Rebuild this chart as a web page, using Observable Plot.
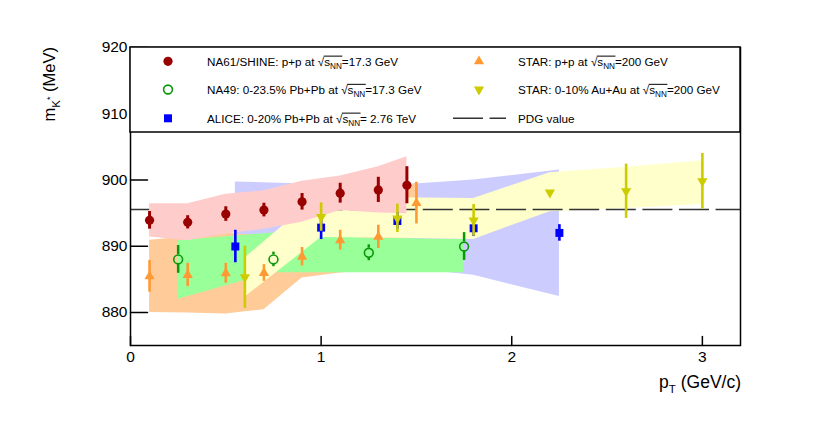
<!DOCTYPE html>
<html><head><meta charset="utf-8">
<script src="https://cdn.jsdelivr.net/npm/d3@7"></script>
<script src="https://cdn.jsdelivr.net/npm/@observablehq/plot@0.6"></script>
<style>body{margin:0;background:#fff;} svg{font-family:"Liberation Sans",Arial,sans-serif;}</style>
</head><body><div id="chart"></div>
<script>
const pdgMass = 895.55;
const xTicks = [0, 1, 2, 3];
const yTicks = [880, 890, 900, 910, 920];

// NA61/SHINE p+p 17.3 GeV
const na61Pt = [0.1, 0.3, 0.5, 0.7, 0.9, 1.1, 1.3, 1.45];
const na61M = [893.9, 893.6, 894.85, 895.45, 896.7, 898.0, 898.5, 899.2];
const na61Stat = [1.33, 1.0, 1.1, 1.03, 1.25, 1.5, 1.9, 2.8];
const na61Sys = [2.5, 2.8, 3.0, 2.9, 3.1, 2.6, 3.5, 4.3];

// NA49 0-23.5% Pb+Pb 17.3 GeV
const na49Pt = [0.25, 0.75, 1.25, 1.75];
const na49M = [888.0, 888.0, 889.0, 889.95];
const na49Stat = [2.1, 1.1, 1.2, 2.1];
const na49SysLo = [882.0, 886.0, 886.0, 886.0];
const na49SysHi = [890.8, 892.0, 891.2, 891.0];

// ALICE 0-20% Pb+Pb 2.76 TeV
const alicePt = [0.55, 1.0, 1.4, 1.8, 2.25];
const aliceM = [889.95, 892.8, 893.8, 892.7, 892.0];
const aliceStat = [2.45, 1.8, 1.3, 1.25, 1.25];
const aliceSysLo = [884.0, 886.3, 886.8, 885.6, 882.4];
const aliceSysHi = [899.7, 899.3, 899.2, 900.0, 901.5];

// STAR p+p 200 GeV
const starPpPt = [0.1, 0.3, 0.5, 0.7, 0.9, 1.1, 1.3, 1.5];
const starPpM = [885.45, 885.65, 885.9, 885.95, 888.4, 890.9, 891.4, 896.5];
const starPpStat = [2.4, 1.75, 1.5, 1.26, 1.4, 1.5, 1.75, 3.15];
const starPpSysLo = [880.0, 879.9, 879.75, 880.4, 885.2, 885.95, 886.4, 892.8];
const starPpSysHi = [890.9, 891.4, 892.0, 891.5, 891.6, 895.9, 896.4, 899.6];

// STAR 0-10% Au+Au 200 GeV
const starAuPt = [0.6, 1.0, 1.4, 1.8, 2.2, 2.6, 3.0];
const starAuM = [885.3, 894.4, 894.2, 893.9, 898.1, 898.3, 899.8];
const starAuStat = [4.7, 2.15, 2.15, 2.4, 0.3, 4.1, 4.2];
const starAuSysLo = [882.3, 891.3, 891.2, 891.0, 895.2, 895.7, 896.3];
const starAuSysHi = [888.2, 898.0, 897.3, 897.2, 901.1, 901.9, 902.9];

const legendLabels = [
  ["NA61/SHINE: p+p at ", "=17.3 GeV"],
  ["NA49: 0-23.5% Pb+Pb at ", "=17.3 GeV"],
  ["ALICE: 0-20% Pb+Pb at ", "= 2.76 TeV"],
  ["STAR: p+p at ", "=200 GeV"],
  ["STAR: 0-10% Au+Au at ", "=200 GeV"],
  ["PDG value", null]
];

const C = {
  na61: "#990000", na61Band: "#ffcccc",
  na49: "#0a990a", na49Band: "#99ff99",
  alice: "#0000ff", aliceBand: "#ccccff",
  pp: "#ff9933", ppBand: "#ffcc99",
  au: "#cccc00", auBand: "#ffffcc"
};

const na61 = na61Pt.map((pt, i) => ({pt, m: na61M[i], stat: na61Stat[i], lo: na61M[i] - na61Sys[i], hi: na61M[i] + na61Sys[i]}));
const na49 = na49Pt.map((pt, i) => ({pt, m: na49M[i], stat: na49Stat[i], lo: na49SysLo[i], hi: na49SysHi[i]}));
const alice = alicePt.map((pt, i) => ({pt, m: aliceM[i], stat: aliceStat[i], lo: aliceSysLo[i], hi: aliceSysHi[i]}));
const starPp = starPpPt.map((pt, i) => ({pt, m: starPpM[i], stat: starPpStat[i], lo: starPpSysLo[i], hi: starPpSysHi[i]}));
const starAu = starAuPt.map((pt, i) => ({pt, m: starAuM[i], stat: starAuStat[i], lo: starAuSysLo[i], hi: starAuSysHi[i]}));

const tickShape = {draw(ctx, l) { ctx.moveTo(0, 0); ctx.lineTo(0, -l); }};
const circleGap = 0.7;

const band = (data, fill) => Plot.areaY(data, {x: "pt", y1: "lo", y2: "hi", fill, curve: "linear"});
const bars = (data, stroke, w) => Plot.ruleX(data, {x: "pt", y1: d => d.m - d.stat, y2: d => d.m + d.stat, stroke, strokeWidth: w});

const plot = Plot.plot({
  width: 830, height: 434,
  marginLeft: 130, marginRight: 90, marginTop: 47, marginBottom: 89,
  x: {domain: [0, 3.2]},
  y: {domain: [875, 920]},
  style: {fontFamily: "Liberation Sans, Arial, sans-serif", background: "white", color: "black"},
  marks: [
    band(alice, C.aliceBand),
    band(starPp, C.ppBand),
    band(na49, C.na49Band),
    band(starAu, C.auBand),
    Plot.ruleY([pdgMass], {stroke: "#333", strokeWidth: 1.5, strokeDasharray: "30,6.6"}),
    band(na61, C.na61Band),
    bars(na61, C.na61, 3),
    Plot.dot(na61, {x: "pt", y: "m", r: 4.6, fill: C.na61, symbol: "circle"}),
    Plot.ruleX(na49, {x: "pt", y1: d => d.m + circleGap, y2: d => d.m + d.stat, stroke: C.na49, strokeWidth: 2.5}),
    Plot.ruleX(na49, {x: "pt", y1: d => d.m - circleGap, y2: d => d.m - d.stat, stroke: C.na49, strokeWidth: 2.5}),
    Plot.dot(na49, {x: "pt", y: "m", r: 4.4, fill: "none", stroke: C.na49, strokeWidth: 1.6, symbol: "circle"}),
    bars(alice, C.alice, 2.6),
    Plot.dot(alice, {x: "pt", y: "m", r: 4.5, fill: C.alice, symbol: "square"}),
    bars(starPp, C.pp, 2.6),
    Plot.dot(starPp, {x: "pt", y: "m", r: 3.8, fill: C.pp, symbol: "triangle"}),
    bars(starAu, C.au, 2.6),
    Plot.dot(starAu, {x: "pt", y: "m", r: 3.8, fill: C.au, symbol: "triangle", rotate: 180}),
    Plot.axisY({ticks: yTicks, tickSize: 0, tickPadding: 3, fontSize: 15.5, label: null, tickFormat: d => String(d)}),
    Plot.axisX({ticks: xTicks, tickSize: 0, tickPadding: 5, fontSize: 15.5, label: null, tickFormat: d => String(d)}),
    Plot.vector(yTicks, {x: () => 0, y: d => d, length: 17, rotate: 90, anchor: "start", shape: tickShape, stroke: "black", strokeWidth: 1.5}),
    Plot.vector(xTicks, {x: d => d, y: () => 875, length: 9, rotate: 0, anchor: "start", shape: tickShape, stroke: "black", strokeWidth: 1.5}),
    Plot.frame({stroke: "black", strokeWidth: 1.5})
  ]
});
document.getElementById("chart").appendChild(plot);

const svg = d3.select(plot);
const xsc = plot.scale("x"), ysc = plot.scale("y");
const frameLeft = xsc.range[0], frameRight = xsc.range[1], frameTop = ysc.apply(920);

// Legend box
svg.append("rect").attr("x", frameLeft).attr("y", frameTop).attr("width", frameRight - frameLeft).attr("height", 85)
  .attr("fill", "white").attr("stroke", "black").attr("stroke-width", 1.5);

const legFs = 11.7;
function legendText(x, y, pre, post) {
  const t = svg.append("text").attr("x", x).attr("y", y).attr("text-anchor", "start")
    .style("font-size", legFs + "px").attr("fill", "black");
  t.append("tspan").text(pre);
  if (post === null) return;
  t.append("tspan").text("\u221A");
  t.append("tspan").text("s");
  t.append("tspan").attr("dy", 3).style("font-size", (legFs * 0.7) + "px").text("NN");
  t.append("tspan").attr("dy", -3).text(post);
  const node = t.node();
  const iRoot = pre.length;
  const x0 = node.getEndPositionOfChar(iRoot).x - 0.5;
  const x1 = node.getEndPositionOfChar(iRoot + 3).x + 0.5;
  svg.append("line").attr("x1", x0).attr("x2", x1).attr("y1", y - legFs * 0.8).attr("y2", y - legFs * 0.8)
    .attr("stroke", "black").attr("stroke-width", 1);
}
const rows = [61.3, 89.5, 118.3];
const colMarker = [168, 479], colText = [207, 518];
svg.append("circle").attr("cx", colMarker[0]).attr("cy", rows[0]).attr("r", 4.6).attr("fill", C.na61);
svg.append("circle").attr("cx", colMarker[0]).attr("cy", rows[1]).attr("r", 4.4).attr("fill", "none").attr("stroke", C.na49).attr("stroke-width", 1.6);
svg.append("rect").attr("x", colMarker[0] - 4).attr("y", rows[2] - 4).attr("width", 8).attr("height", 8).attr("fill", C.alice);
svg.append("path").attr("d", d3.symbol(d3.symbolTriangle, Math.PI * 3.8 * 3.8)()).attr("transform", `translate(${colMarker[1]},${rows[0]})`).attr("fill", C.pp);
svg.append("path").attr("d", d3.symbol(d3.symbolTriangle, Math.PI * 3.8 * 3.8)()).attr("transform", `translate(${colMarker[1]},${rows[1]}) rotate(180)`).attr("fill", C.au);
svg.append("line").attr("x1", 453).attr("x2", 506).attr("y1", rows[2]).attr("y2", rows[2]).attr("stroke", "#333").attr("stroke-width", 1.5).attr("stroke-dasharray", "30,6.6");
legendLabels.forEach(([pre, post], i) => {
  const col = i < 3 ? 0 : 1;
  legendText(colText[col], rows[i % 3] + 4.2, pre, post);
});

// Axis titles
const yt = svg.append("text").attr("transform", "translate(55,47) rotate(-90)").attr("text-anchor", "end").style("font-size", "16.5px").attr("fill", "black");
yt.append("tspan").text("m");
yt.append("tspan").attr("dy", 5).style("font-size", "11.5px").text("K");
yt.append("tspan").attr("dy", -7).style("font-size", "9px").text("*");
yt.append("tspan").attr("dy", 2).text(" (MeV)");

const xt = svg.append("text").attr("x", 741).attr("y", 388).attr("text-anchor", "end").style("font-size", "17.5px").attr("fill", "black");
xt.append("tspan").text("p");
xt.append("tspan").attr("dy", 5).style("font-size", "11.5px").text("T");
xt.append("tspan").attr("dy", -5).text(" (GeV/c)");
</script>
</body></html>
